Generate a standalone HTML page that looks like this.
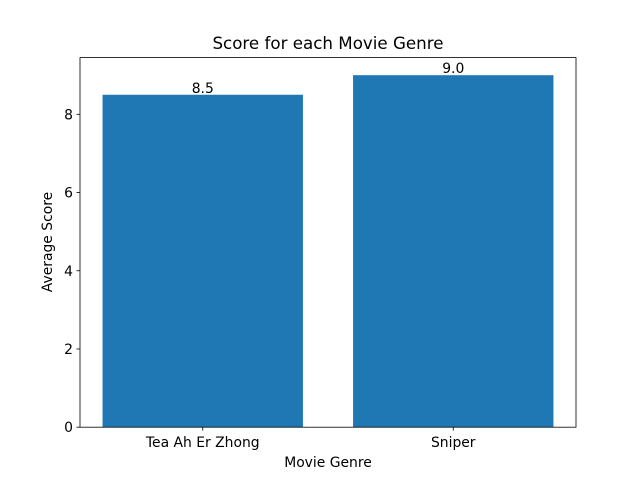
<!DOCTYPE html>
<html><head><meta charset="utf-8"><style>
body{margin:0;background:#fff;}
svg text{font-family:"DejaVu Sans","Liberation Sans",sans-serif;}
</style></head><body>
<svg id="chart" width="640" height="480" xmlns="http://www.w3.org/2000/svg">
<rect width="640" height="480" fill="#fff"/>
<g id="bars"></g>
<g id="axes"></g>
<text x="328" y="49" text-anchor="middle" font-size="16.7">Score for each Movie Genre</text>
<text x="328" y="467" text-anchor="middle" font-size="13.9">Movie Genre</text>
<text transform="translate(52,242) rotate(-90)" text-anchor="middle" font-size="13.9">Average Score</text>
</svg>
<script>
const categories = ["Tea Ah Er Zhong", "Sniper"];
const scores = [8.5, 9.0];
const yTicks = [0, 2, 4, 6, 8];

const L = 80, R = 576, T = 57.6, B = 427.2;
const ns = "http://www.w3.org/2000/svg";
const yMax = Math.max(...scores) * 1.05;
const barW = 0.8;
const xMin = -barW/2 - 0.05*((categories.length-1)+barW), xMax = (categories.length-1) + barW/2 + 0.05*((categories.length-1)+barW);
const xs = v => L + (v - xMin) / (xMax - xMin) * (R - L);
const ys = v => B - v / yMax * (B - T);
function mk(tag, attrs, parent){const e=document.createElementNS(ns,tag);for(const k in attrs)e.setAttribute(k,attrs[k]);parent.appendChild(e);return e;}
const bars = document.getElementById("bars"), axes = document.getElementById("axes");
categories.forEach((c,i)=>{
  const r = mk("rect",{x:xs(i-barW/2),y:ys(scores[i]),width:xs(i+barW/2)-xs(i-barW/2),height:B-ys(scores[i]),fill:"#1f77b4"},bars);
  
  
  const t = mk("text",{x:xs(i),y:ys(scores[i])-2,"text-anchor":"middle","font-size":"13.9"},bars);
  t.textContent = scores[i].toFixed(1);
  
  
  mk("line",{x1:xs(i),x2:xs(i),y1:B,y2:B+3.5,stroke:"#000","stroke-width":0.8},axes);
  const xl = mk("text",{x:xs(i),y:B+20,"text-anchor":"middle","font-size":"13.9"},axes);
  xl.textContent = c;
  
  
});
yTicks.forEach(v=>{
  mk("line",{x1:L-3.5,x2:L,y1:ys(v),y2:ys(v),stroke:"#000","stroke-width":0.8},axes);
  const yl = mk("text",{x:L-7,y:ys(v)+5,"text-anchor":"end","font-size":"13.9"},axes);
  yl.textContent = v;
  
  
});
const frame = mk("rect",{x:L,y:T,width:R-L,height:B-T,fill:"none",stroke:"#000","stroke-width":0.8},axes);


</script>
</body></html>
